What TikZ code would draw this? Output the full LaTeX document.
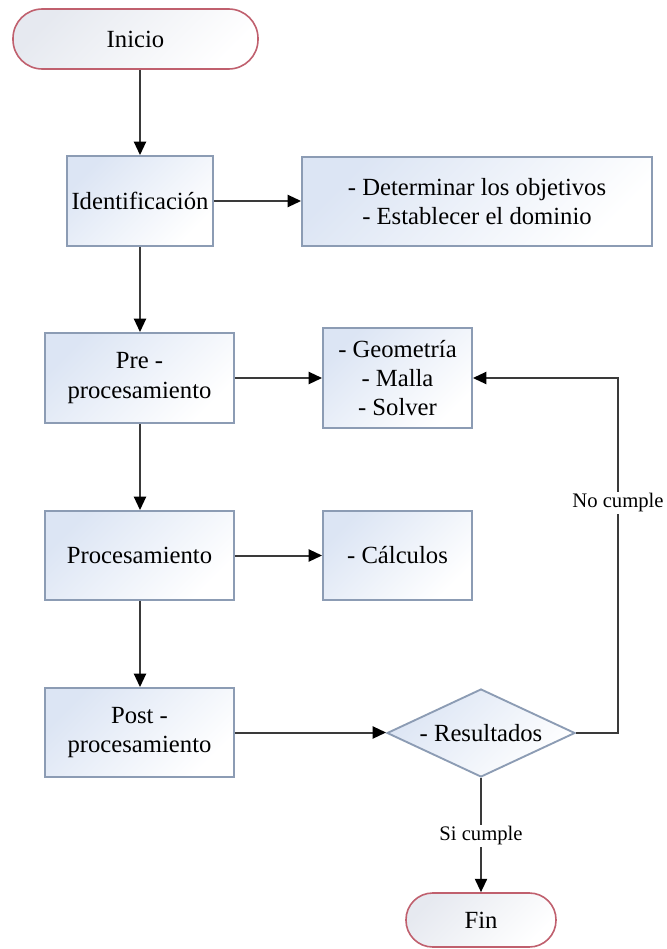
\documentclass[tikz,border=0pt]{standalone}
\usepackage{fontspec}
\setmainfont{Liberation Serif}
\usetikzlibrary{arrows.meta,shapes.geometric}
\definecolor{boxedge}{HTML}{8C9CB4}
\definecolor{boxtop}{HTML}{DCE5F4}
\definecolor{termedge}{HTML}{C0606E}
\definecolor{termtop}{HTML}{E6E9F0}
\definecolor{linec}{HTML}{3A3A3A}
\tikzset{
  sz/.style 2 args={minimum width=#1*0.75pt, minimum height=#2*0.75pt},
  boxnode/.style={rectangle, draw=boxedge, line width=1.4pt, inner sep=0pt,
    top color=boxtop, bottom color=white, shading angle=45,
    align=center, font=\fontsize{18.5}{22}\selectfont},
  termnode/.style={rectangle, draw=termedge, line width=1.2pt, inner sep=0pt,
    top color=termtop, bottom color=white, shading angle=45,
    align=center, font=\fontsize{18.5}{22}\selectfont},
  decnode/.style={diamond, draw=boxedge, line width=1.4pt, inner sep=0pt, aspect=2,
    top color=boxtop, bottom color=white, shading angle=45,
    align=center, font=\fontsize{18.5}{22}\selectfont},
  arr/.style={draw=linec, line width=1.5pt, -{Triangle[length=10pt,width=9pt,color=black]}},
  lbl/.style={fill=white, inner sep=1.5pt, font=\fontsize{15.5}{18}\selectfont}
}
\begin{document}
\begin{tikzpicture}[x=0.75pt,y=-0.75pt]
\useasboundingbox[fill=white] (0,0) rectangle (667,949);
\node[termnode, rounded corners=22pt, sz={245}{60}] (inicio) at (135.5,39) {Inicio};
\node[boxnode, sz={146}{90}] (ident) at (140,201) {Identificación};
\node[boxnode, sz={350}{89}] (obj) at (477,201.5) {- Determinar los objetivos\\- Establecer el dominio};
\node[boxnode, sz={189}{90}] (pre) at (139.5,378) {Pre -\\procesamiento};
\node[boxnode, sz={149}{100}] (geo) at (397.5,378) {- Geometría\\- Malla\\- Solver};
\node[boxnode, sz={189}{89}] (proc) at (139.5,555.5) {Procesamiento};
\node[boxnode, sz={149}{89}] (calc) at (397.5,555.5) {- Cálculos};
\node[boxnode, sz={189}{89}] (post) at (139.5,732.5) {Post -\\procesamiento};
\node[decnode, sz={188}{88}] (dec) at (481,733) {- Resultados};
\node[termnode, rounded corners=20pt, sz={150}{54}] (fin) at (481,920) {Fin};
\coordinate (fbx) at (618,0);

\draw[arr] (inicio.south -| ident.north) -- (ident.north);
\draw[arr] (ident.east) -- (ident.east -| obj.west);
\draw[arr] (ident.south) -- (ident.south |- pre.north);
\draw[arr] (pre.east) -- (pre.east -| geo.west);
\draw[arr] (ident.south |- pre.south) -- (ident.south |- proc.north);
\draw[arr] (proc.east) -- (proc.east -| calc.west);
\draw[arr] (ident.south |- proc.south) -- (ident.south |- post.north);
\draw[arr] (post.east) -- (post.east -| dec.west);
\draw[arr] (dec.east) -- (dec.east -| fbx) -- (fbx |- geo.east) -- (geo.east);
\draw[arr] (dec.south) -- (fin.north);
\node[lbl] (nocumple) at (618,503) {No cumple};
\node[lbl] (sicumple) at (481,836) {Si cumple};
\end{tikzpicture}
\end{document}
